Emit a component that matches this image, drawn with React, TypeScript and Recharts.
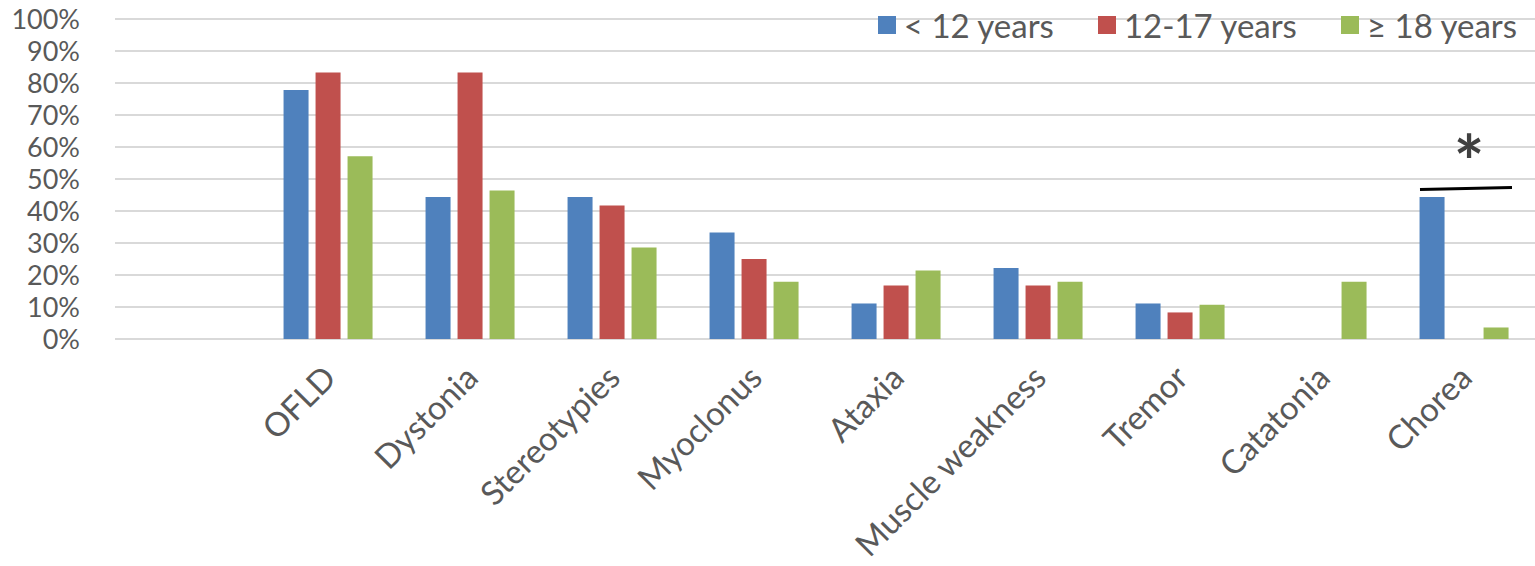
import { Bar, BarChart, CartesianGrid, Legend, ReferenceDot, XAxis, YAxis } from "recharts";

const CATEGORIES = ["", "OFLD", "Dystonia", "Stereotypies", "Myoclonus", "Ataxia", "Muscle weakness", "Tremor", "Catatonia", "Chorea"];
const UNDER_12 = [null, 77.8, 44.4, 44.4, 33.3, 11.1, 22.2, 11.1, 0, 44.4];
const AGE_12_17 = [null, 83.3, 83.3, 41.7, 25, 16.7, 16.7, 8.3, 0, 0];
const OVER_18 = [null, 57.1, 46.4, 28.6, 17.9, 21.4, 17.9, 10.7, 17.9, 3.6];
const Y_TICKS = [0, 10, 20, 30, 40, 50, 60, 70, 80, 90, 100];

const SERIES = [
  { key: "u12", name: "< 12 years", color: "#4F81BD" },
  { key: "a1217", name: "12-17 years", color: "#C0504D" },
  { key: "o18", name: "≥ 18 years", color: "#9BBB59" },
];

const data = CATEGORIES.map((name, i) => ({
  name,
  u12: UNDER_12[i],
  a1217: AGE_12_17[i],
  o18: OVER_18[i],
}));

const FONT = "Lato, 'Open Sans', sans-serif";
const TEXT = "#595959";

function CategoryTick({ x, y, payload }: any) {
  const tx = x + 10;
  const ty = y + 33;
  return (
    <text
      x={tx}
      y={ty}
      transform={`rotate(-45, ${tx}, ${ty})`}
      textAnchor="end"
      fill={TEXT}
      fontSize={33}
      fontFamily={FONT}
    >
      {payload.value}
    </text>
  );
}

function LegendBox() {
  return (
    <div style={{ display: "flex", justifyContent: "flex-end", paddingRight: 18, fontFamily: FONT, fontSize: 33, color: TEXT, lineHeight: "40px" }}>
      {SERIES.map((s) => (
        <div key={s.key} style={{ display: "flex", alignItems: "center", marginLeft: 44 }}>
          <span style={{ width: 18, height: 18, background: s.color, display: "inline-block", marginRight: 8 }} />
          <span>{s.name}</span>
        </div>
      ))}
    </div>
  );
}

function SignificanceMark({ cx, cy }: any) {
  return (
    <g>
      <line x1={cx - 44} y1={cy + 1} x2={cx + 48} y2={cy - 1} stroke="#000" strokeWidth={3} />
      <text x={cx + 5} y={cy} textAnchor="middle" fontSize={72} fontWeight="bold" fill="#404040" fontFamily={FONT}>
        *
      </text>
    </g>
  );
}

export default function App() {
  return (
    <div style={{ position: "absolute", left: 0, top: 0, background: "#fff" }}>
      <BarChart
        width={1535}
        height={566}
        data={data}
        margin={{ top: 19, right: 0, bottom: 0, left: 0 }}
        barCategoryGap="18.7%"
        barGap={7}
      >
        <CartesianGrid vertical={false} stroke="#D9D9D9" strokeWidth={2} />
        <XAxis
          dataKey="name"
          height={227}
          axisLine={false}
          tickLine={false}
          interval={0}
          tick={<CategoryTick />}
        />
        <YAxis
          width={115}
          domain={[0, 100]}
          ticks={Y_TICKS}
          interval={0}
          axisLine={false}
          tickLine={false}
          tickSize={0}
          tickMargin={35}
          tickFormatter={(v) => `${v}%`}
          tick={{ fill: TEXT, fontSize: 27, fontFamily: FONT }}
        />
        <Legend
          verticalAlign="middle"
          layout="horizontal"
          wrapperStyle={{ top: 5, left: 0, width: 1535 }}
          content={<LegendBox />}
        />
        {SERIES.map((s) => (
          <Bar key={s.key} dataKey={s.key} name={s.name} fill={s.color} isAnimationActive={false} />
        ))}
        <ReferenceDot x="Chorea" y={47} ifOverflow="visible" shape={<SignificanceMark />} />
      </BarChart>
    </div>
  );
}
